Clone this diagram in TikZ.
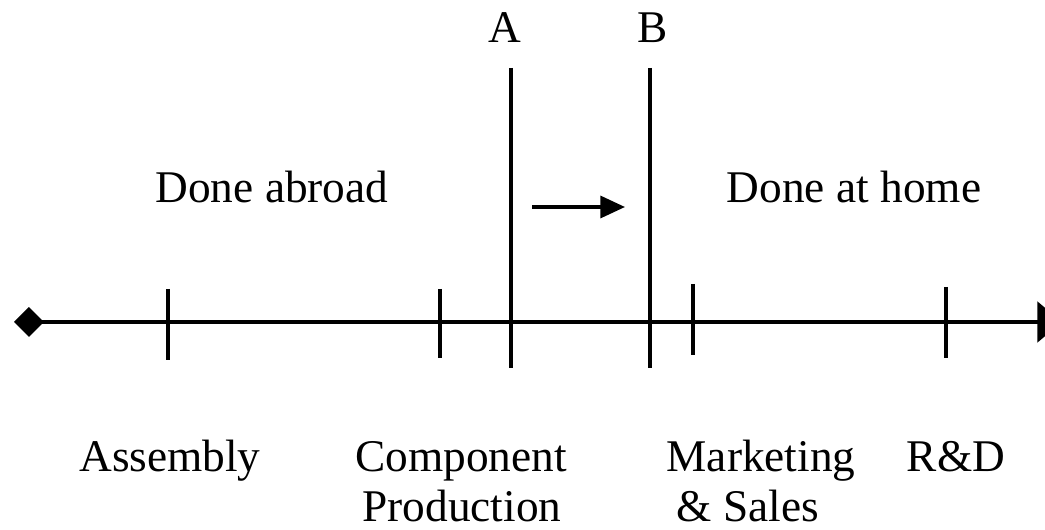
\documentclass[tikz,border=0pt]{standalone}
\usepackage{fontspec}
\setmainfont{Liberation Serif}
\usetikzlibrary{arrows.meta}

\begin{document}
\begin{tikzpicture}[x=0.02cm, y=-0.02cm,
        axis/.style={line width=1.9pt, {Diamond[length=17pt,width=17pt]}-{Triangle[length=14pt,width=23pt]}},
        tickline/.style={line width=1.9pt},
        cutline/.style={line width=1.9pt},
        movearrow/.style={line width=1.9pt, -{Triangle[length=14pt,width=12.5pt]}},
        txt/.style={font=\fontsize{25.8}{28.5}\selectfont, inner sep=0pt, anchor=base}
    ]
    \useasboundingbox (0,0) rectangle (1045,530);

    % axis
    \coordinate (start) at (14,322);
    \coordinate (end) at (1062,322);
    \draw[axis] (start) -- (end);

    % ticks
    \coordinate (t1a) at (168,289); \coordinate (t1b) at (168,360);
    \coordinate (t2a) at (440,289); \coordinate (t2b) at (440,358);
    \coordinate (t3a) at (693,284); \coordinate (t3b) at (693,355);
    \coordinate (t4a) at (946,287); \coordinate (t4b) at (946,358);
    \draw[tickline] (t1a) -- (t1b);
    \draw[tickline] (t2a) -- (t2b);
    \draw[tickline] (t3a) -- (t3b);
    \draw[tickline] (t4a) -- (t4b);

    % cut-off lines A and B
    \node[txt] (A) at (505,43) {A};
    \node[txt] (B) at (653,43) {B};
    \coordinate (atop) at (511,68); \coordinate (abot) at (511,368);
    \coordinate (btop) at (650,68); \coordinate (bbot) at (650,368);
    \draw[cutline] (atop) -- (abot);
    \draw[cutline] (btop) -- (bbot);

    % move arrow
    \coordinate (from) at (532,207);
    \coordinate (to) at (625,207);
    \draw[movearrow] (from) -- (to);

    % regions
    \node[txt] (abroad) at (272,203) {Done abroad};
    \node[txt] (home) at (854,203) {Done at home};

    % activities
    \node[txt] (assembly) at (170,471) {Assembly};
    \node[txt] (comp) at (461,471) {Component};
    \node[txt] (prod) at (462,521) {Production};
    \node[txt] (mkt) at (761,471) {Marketing};
    \node[txt] (sales) at (748,521) {\& Sales};
    \node[txt] (rd) at (956,471) {R\&D};

\end{tikzpicture}
\end{document}
